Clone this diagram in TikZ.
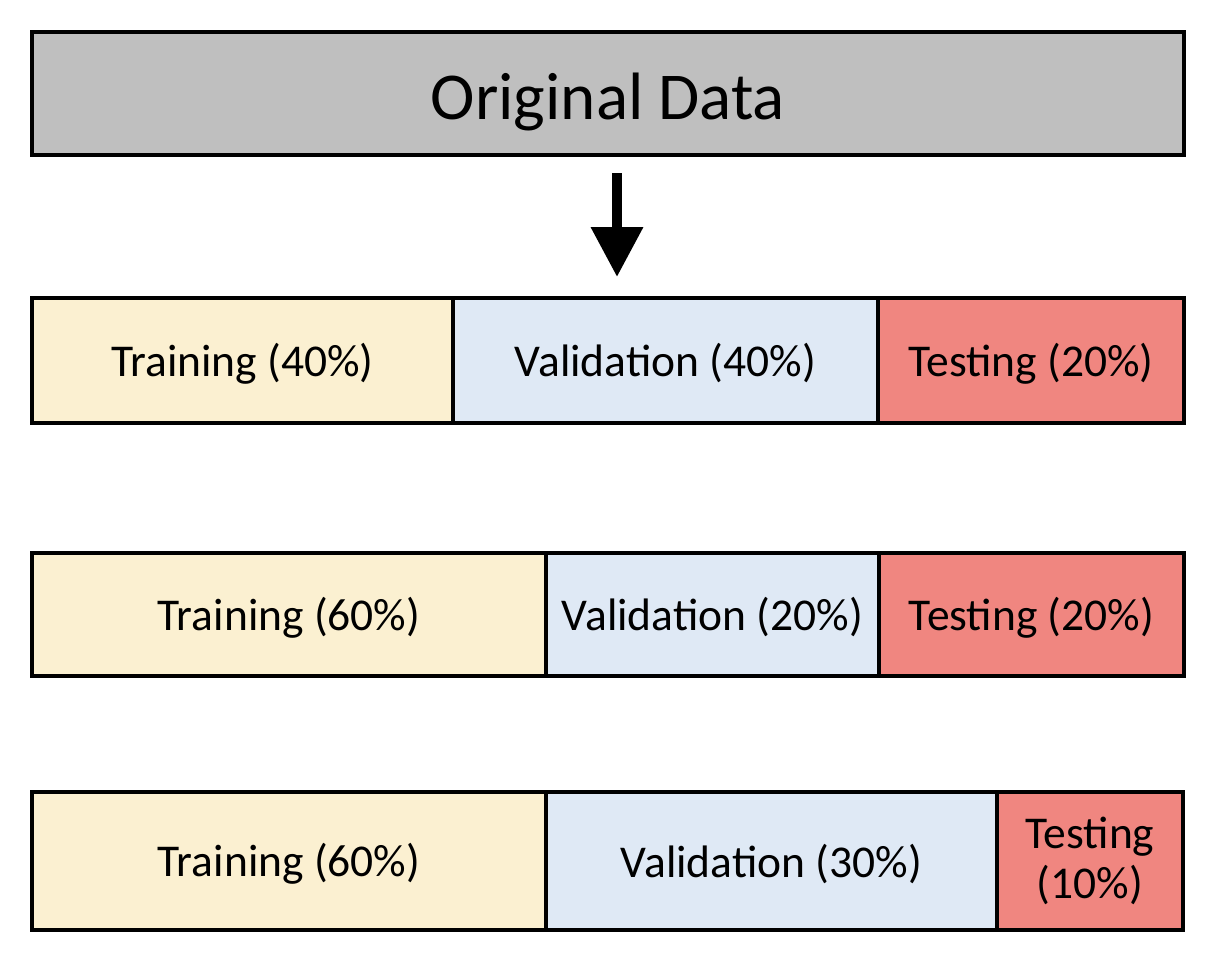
\documentclass[tikz,border=0pt]{standalone}
\usepackage{fontspec}
\setmainfont{Carlito}
\usetikzlibrary{arrows.meta}
\definecolor{grayfill}{RGB}{191,191,191}
\definecolor{trainfill}{RGB}{251,240,209}
\definecolor{valfill}{RGB}{223,233,245}
\definecolor{testfill}{RGB}{240,134,128}
\newcommand{\lowered}[2]{\raisebox{-#1}[\height][\depth]{#2}}
\begin{document}
\begin{tikzpicture}[x=1pt,y=-1pt,
  cell/.style={draw=black, line width=4pt, inner sep=0pt, outer sep=0pt, align=center,
    font=\fontsize{45.5}{50}\selectfont},
  origbox/.style={cell, fill=grayfill, minimum width=1152pt, minimum height=123pt,
    font=\fontsize{67}{70}\selectfont},
  train/.style={cell, fill=trainfill},
  val/.style={cell, fill=valfill},
  test/.style={cell, fill=testfill},
  splitarrow/.style={line width=10pt, -{Triangle[length=50pt,width=50pt]}}
]
\useasboundingbox (0,0) rectangle (1218,966);
\node[origbox] (orig) at (608,93.5) {\lowered{8pt}{Original Data}};
\coordinate (as) at (617,173);
\coordinate (ae) at (617,277);
\draw[splitarrow] (as) -- (ae);
% row 1
\node[train, minimum width=421pt, minimum height=125pt] (t1) at (242.5,360.5) {\lowered{3pt}{Training (40\%)}};
\node[val, minimum width=425pt, minimum height=125pt] (v1) at (665.5,360.5) {\lowered{3pt}{Validation (40\%)}};
\node[test, minimum width=306pt, minimum height=125pt] (s1) at (1031,360.5) {\lowered{3pt}{Testing (20\%)}};
% row 2
\node[train, minimum width=514pt, minimum height=123pt] (t2) at (289,614.5) {\lowered{3pt}{Training (60\%)}};
\node[val, minimum width=333pt, minimum height=123pt] (v2) at (712.5,614.5) {\lowered{3pt}{Validation (20\%)}};
\node[test, minimum width=305pt, minimum height=123pt] (s2) at (1031.5,614.5) {\lowered{3pt}{Testing (20\%)}};
% row 3
\node[train, minimum width=514pt, minimum height=138pt] (t3) at (289,861) {\lowered{3pt}{Training (60\%)}};
\node[val, minimum width=451pt, minimum height=138pt] (v3) at (771.5,861) {\lowered{3pt}{Validation (30\%)}};
\node[test, minimum width=186pt, minimum height=138pt] (s3) at (1090,861) {Testing\\(10\%)};
\end{tikzpicture}
\end{document}
